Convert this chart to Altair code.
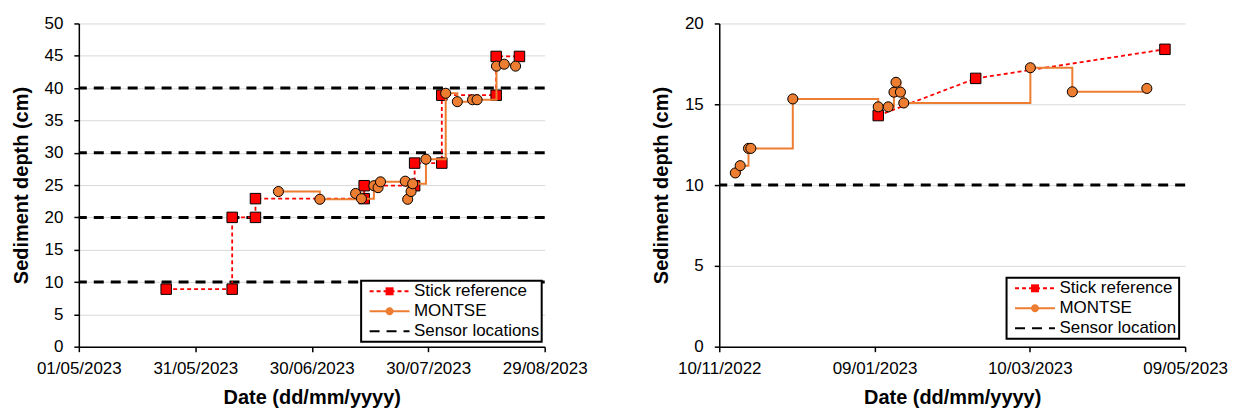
import altair as alt
import pandas as pd

FONT = "Liberation Sans"
ORANGE = "#ED7D31"
RED = "#FF0000"
STICK = "Stick reference"
MONTSE = "MONTSE"

# marker outlines in unit coordinates (scaled by Vega through the size channel)
SQUARE_PATH = "M-0.8,-0.8L0.8,-0.8L0.8,0.8L-0.8,0.8Z"
CIRCLE_PATH = "M0.8,0A0.8,0.8 0 1,1 -0.8,0A0.8,0.8 0 1,1 0.8,0Z"
LINE_PATH = "M-4,0L4,0"

# ---------------- Left panel (2023) ----------------
left_stick_dates = [
    "2023-05-23T12:00:00Z", "2023-06-09T12:00:00Z", "2023-06-09T12:00:00Z",
    "2023-06-15T12:00:00Z", "2023-06-15T12:00:00Z", "2023-07-13T12:00:00Z",
    "2023-07-13T12:00:00Z", "2023-07-26T12:00:00Z", "2023-07-26T12:00:00Z",
    "2023-08-02T12:00:00Z", "2023-08-02T12:00:00Z", "2023-08-16T12:00:00Z",
    "2023-08-16T12:00:00Z", "2023-08-22T12:00:00Z",
]
left_stick_depth = [8.9, 8.9, 20.0, 20.0, 22.9, 22.9, 24.9, 24.9, 28.4, 28.4,
                    38.9, 38.9, 44.9, 44.9]

left_montse_dates = [
    "2023-06-21T10:00:00Z", "2023-07-02T02:00:00Z", "2023-07-11T07:00:00Z",
    "2023-07-12T19:00:00Z", "2023-07-16T00:00:00Z", "2023-07-17T02:00:00Z",
    "2023-07-17T17:00:00Z", "2023-07-24T02:00:00Z", "2023-07-24T17:00:00Z",
    "2023-07-25T14:00:00Z", "2023-07-26T00:00:00Z", "2023-07-29T10:00:00Z",
    "2023-08-03T12:00:00Z", "2023-08-06T12:00:00Z", "2023-08-10T10:00:00Z",
    "2023-08-11T14:00:00Z", "2023-08-16T14:00:00Z", "2023-08-18T14:00:00Z",
    "2023-08-21T12:00:00Z",
]
left_montse_depth = [24.0, 22.8, 23.7, 22.9, 24.9, 24.6, 25.5, 25.6, 22.8, 24.0,
                     25.2, 29.0, 39.2, 37.9, 38.2, 38.2, 43.4, 43.7, 43.4]

left_sensor_depth = [10, 20, 30, 40]
left_sensor_label = "Sensor locations"
left_x_ticks = [(2023, 5, 1), (2023, 5, 31), (2023, 6, 30), (2023, 7, 30), (2023, 8, 29)]
left_y_ticks = [0, 5, 10, 15, 20, 25, 30, 35, 40, 45, 50]

# ---------------- Right panel (2022-2023) ----------------
right_stick_dates = ["2023-01-10T10:00:00Z", "2023-02-17T02:00:00Z", "2023-05-01T05:00:00Z"]
right_stick_depth = [14.3, 16.6, 18.4]

right_montse_dates = [
    "2022-11-16T05:00:00Z", "2022-11-18T02:00:00Z", "2022-11-21T07:00:00Z",
    "2022-11-22T05:00:00Z", "2022-12-08T10:00:00Z", "2023-01-10T10:00:00Z",
    "2023-01-14T07:00:00Z", "2023-01-16T12:00:00Z", "2023-01-17T07:00:00Z",
    "2023-01-19T00:00:00Z", "2023-01-20T07:00:00Z", "2023-03-10T05:00:00Z",
    "2023-03-26T10:00:00Z", "2023-04-24T05:00:00Z",
]
right_montse_depth = [10.75, 11.2, 12.27, 12.27, 15.33, 14.84, 14.84, 15.75, 16.36,
                      15.75, 15.08, 17.26, 15.77, 15.98]

right_sensor_depth = [10]
right_sensor_label = "Sensor location"
right_x_ticks = [(2022, 11, 10), (2023, 1, 9), (2023, 3, 10), (2023, 5, 9)]
right_y_ticks = [0, 5, 10, 15, 20]


def dt(t):
    return alt.DateTime(year=t[0], month=t[1], date=t[2], utc=True)


def panel(stick_dates, stick_depth, montse_dates, montse_depth, sensor_depth,
          sensor_label, x_ticks, y_ticks, legend_x, legend_y):
    stick_df = pd.DataFrame({"date": stick_dates, "depth": stick_depth,
                             "series": STICK, "idx": list(range(len(stick_dates)))})
    montse_df = pd.DataFrame({"date": montse_dates, "depth": montse_depth,
                              "series": MONTSE, "idx": list(range(len(montse_dates)))})
    sensor_df = pd.DataFrame({"depth": sensor_depth, "series": sensor_label})

    series_all = [STICK, MONTSE, sensor_label]
    color_scale = alt.Scale(domain=series_all, range=[RED, ORANGE, "#000000"])
    dash_scale = alt.Scale(domain=series_all, range=[[4, 3], [1, 0], [10, 7]])
    marker_series = [STICK, MONTSE]
    fill_scale = alt.Scale(domain=marker_series, range=[RED, ORANGE])
    shape_scale = alt.Scale(domain=marker_series, range=[SQUARE_PATH, CIRCLE_PATH])

    common_leg = dict(title=None, orient="none", legendX=legend_x, legendY=legend_y,
                      padding=2, rowPadding=2, labelFont=FONT, labelFontSize=17,
                      labelColor="black", symbolOffset=18, labelOffset=16,
                      symbolSize=100)
    line_legend = alt.Legend(
        **common_leg,
        symbolType=LINE_PATH, symbolStrokeWidth=2,
        fillColor="white", strokeColor="black", zindex=1,
    )
    point_legend = alt.Legend(
        **common_leg,
        labelOpacity=0, zindex=2,
        symbolStrokeColor="black", symbolStrokeWidth=1,
    )

    x = alt.X("date:T",
              scale=alt.Scale(type="utc", domain=[dt(x_ticks[0]), dt(x_ticks[-1])]),
              axis=alt.Axis(values=[dt(t) for t in x_ticks], format="%d/%m/%Y",
                            grid=False, labelFlush=False, labelOverlap=False,
                            labelPadding=9, titlePadding=11),
              title="Date (dd/mm/yyyy)")
    y = alt.Y("depth:Q",
              scale=alt.Scale(domain=[y_ticks[0], y_ticks[-1]], nice=False),
              axis=alt.Axis(values=y_ticks, grid=True, gridColor="#D9D9D9",
                            gridWidth=1, labelPadding=11, titlePadding=13),
              title="Sediment depth (cm)")

    color_enc = alt.Color("series:N", scale=color_scale, legend=line_legend)
    dash_enc = alt.StrokeDash("series:N", scale=dash_scale, legend=line_legend)
    fill_enc = alt.Fill("series:N", scale=fill_scale, legend=point_legend)
    shape_enc = alt.Shape("series:N", scale=shape_scale, legend=point_legend)

    sensors = alt.Chart(sensor_df).mark_rule(strokeWidth=3).encode(
        y=y, color=color_enc, strokeDash=dash_enc)
    stick_line = alt.Chart(stick_df).mark_line(strokeWidth=1.8).encode(
        x=x, y=y, color=color_enc, strokeDash=dash_enc, order="idx:Q")
    stick_pts = alt.Chart(stick_df).mark_point(
        filled=True, size=172, stroke="black", strokeWidth=1, opacity=1).encode(
        x=x, y=y, fill=fill_enc, shape=shape_enc)
    montse_line = alt.Chart(montse_df).mark_line(
        strokeWidth=2, interpolate="step-after").encode(
        x=x, y=y, color=color_enc, strokeDash=dash_enc, order="idx:Q")
    montse_pts = alt.Chart(montse_df).mark_point(
        filled=True, size=160, stroke="black", strokeWidth=1, opacity=1).encode(
        x=x, y=y, fill=fill_enc, shape=shape_enc)

    return alt.layer(sensors, stick_line, stick_pts, montse_line, montse_pts).properties(
        width=467, height=324)


left = panel(left_stick_dates, left_stick_depth, left_montse_dates, left_montse_depth,
             left_sensor_depth, left_sensor_label, left_x_ticks, left_y_ticks, 283, 258)
right = panel(right_stick_dates, right_stick_depth, right_montse_dates, right_montse_depth,
              right_sensor_depth, right_sensor_label, right_x_ticks, right_y_ticks, 288, 255)

chart = alt.hconcat(left, right, spacing=175, bounds="flush").resolve_scale(
    x="independent", y="independent", color="independent", strokeDash="independent",
    fill="independent", shape="independent",
).resolve_legend(
    color="independent", strokeDash="independent", fill="independent", shape="independent",
).configure_view(stroke=None).configure_axis(
    labelFont=FONT, labelFontSize=17, labelColor="black",
    titleFont=FONT, titleFontSize=20, titleFontWeight="bold", titleColor="black",
    domainColor="black", domainWidth=1.5, tickColor="black", tickWidth=1.5, tickSize=5,
).properties(padding={"left": 3, "top": 6, "right": 5, "bottom": 5})

try:
    chart.configure_legend(strokeWidth=2).save(
        "out.html", embed_options={"renderer": "svg", "actions": False})
except Exception:
    chart.save("out.html", embed_options={"renderer": "svg", "actions": False})
